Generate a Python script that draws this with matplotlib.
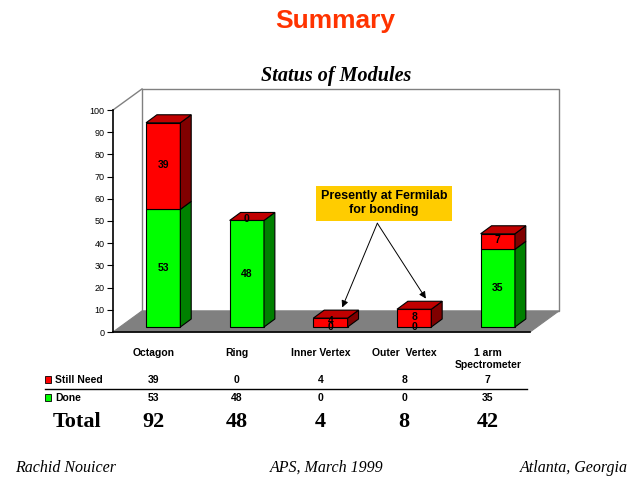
import matplotlib
matplotlib.use("Agg")
import matplotlib.pyplot as plt
from matplotlib.patches import Polygon, Rectangle

# data
categories = ["Octagon", "Ring", "Inner Vertex", "Outer  Vertex", "1 arm\nSpectrometer"]
still_need = [39, 0, 4, 8, 7]
done = [53, 48, 0, 0, 35]
totals = [92, 48, 4, 8, 42]
yticks = [0, 10, 20, 30, 40, 50, 60, 70, 80, 90, 100]

# styles
sans = "Liberation Sans"
serif = "Liberation Serif"
green, green_side = "#00FF00", "#008000"
red, red_side, red_top = "#FF0000", "#800000", "#C00000"

bar_w = 0.41          # front face width (category units)
bar_dx, bar_dy = 0.13, 3.6      # depth of a bar
floor_dx, floor_dy = 0.347, 9.5  # depth of the floor / back wall
base = 2.25           # bars stand in the middle of the floor
xmin, xmax = -0.6, 4.385

fig = plt.figure(figsize=(6.4, 4.8), dpi=100)
ax = fig.add_axes([113 / 640, 148 / 480, 417 / 640, 222 / 480])
ax.set_xlim(xmin, xmax)
ax.set_ylim(0, 100)

# back wall, floor and the edges joining them
wall = Rectangle((xmin + floor_dx, floor_dy), xmax - xmin, 100, facecolor="white",
                 edgecolor="#808080", lw=1, clip_on=False, zorder=0)
ax.add_patch(wall)
floor = Polygon([(xmin, 0), (xmax, 0), (xmax + floor_dx, floor_dy),
                 (xmin + floor_dx, floor_dy)], closed=True, facecolor="#808080",
                edgecolor="#808080", lw=0.8, clip_on=False, zorder=1)
ax.add_patch(floor)
ax.plot([xmin, xmin + floor_dx], [100, 100 + floor_dy], color="#808080",
        lw=1, clip_on=False, zorder=1)
ax.plot([xmin, xmax], [0, 0], color="black", lw=1.2, clip_on=False, zorder=2)

# bars
for i in range(len(categories)):
    segs = [(done[i], green, green_side), (still_need[i], red, red_side)]
    y0 = base
    for val, fc, sc in segs:
        if val > 0:
            ax.add_patch(Rectangle((i - bar_w / 2, y0), bar_w, val, facecolor=fc,
                                   edgecolor="black", lw=0.8, zorder=3, clip_on=False))
            ax.add_patch(Polygon([(i + bar_w / 2, y0), (i + bar_w / 2 + bar_dx, y0 + bar_dy),
                                  (i + bar_w / 2 + bar_dx, y0 + val + bar_dy),
                                  (i + bar_w / 2, y0 + val)], closed=True, facecolor=sc,
                                 edgecolor="black", lw=0.8, zorder=3, clip_on=False))
        y0 += val
    top = base + totals[i]
    ax.add_patch(Polygon([(i - bar_w / 2, top), (i + bar_w / 2, top),
                          (i + bar_w / 2 + bar_dx, top + bar_dy),
                          (i - bar_w / 2 + bar_dx, top + bar_dy)], closed=True,
                         facecolor=red_top, edgecolor="black", lw=0.8, zorder=3,
                         clip_on=False))
    # value labels
    ax.text(i, base + done[i] / 2, str(done[i]), ha="center", va="center",
            fontsize=7.5, fontweight="bold", family=sans, zorder=4)
    ax.text(i, base + done[i] + still_need[i] / 2 + 0.6, str(still_need[i]), ha="center",
            va="center", fontsize=7.5, fontweight="bold", family=sans, zorder=4)

# axis styling
for side in ["top", "right", "bottom"]:
    ax.spines[side].set_visible(False)
ax.spines["left"].set_linewidth(1.2)
ax.set_facecolor("none")
ax.set_xticks([])
ax.set_yticks(yticks)
ax.tick_params(axis="y", length=4, width=0.8, labelsize=6.5, pad=2)
for lab in ax.get_yticklabels():
    lab.set_family(sans)

# category labels and the table under the chart
xt = ax.get_xaxis_transform()
for i, name in enumerate(categories):
    cx = i - 0.12
    ax.text(cx, -0.07, name, transform=xt, ha="center", va="top", fontsize=7.5,
            fontweight="bold", family=sans, linespacing=1.25)
    ax.text(cx, -0.216, str(still_need[i]), transform=xt, ha="center", va="center",
            fontsize=7.5, fontweight="bold", family=sans)
    ax.text(cx, -0.297, str(done[i]), transform=xt, ha="center", va="center",
            fontsize=7.5, fontweight="bold", family=sans)
    ax.text(cx, -0.405, str(totals[i]), transform=xt, ha="center", va="center",
            fontsize=16, fontweight="bold", family=serif)

fig.add_artist(plt.Line2D([45 / 640, 527 / 640], [1 - 389 / 480, 1 - 389 / 480],
                          color="black", lw=1))
fig.add_artist(Rectangle((45 / 640, 1 - 383 / 480), 6 / 640, 7 / 480,
                         facecolor=red, edgecolor="black", lw=0.6))
fig.add_artist(Rectangle((45 / 640, 1 - 401 / 480), 6 / 640, 7 / 480,
                         facecolor=green, edgecolor="black", lw=0.6))
fig.text(55 / 640, 1 - 380 / 480, "Still Need", ha="left", va="center", fontsize=7.5,
         fontweight="bold", family=sans)
fig.text(55 / 640, 1 - 398 / 480, "Done", ha="left", va="center", fontsize=7.5,
         fontweight="bold", family=sans)
fig.text(77 / 640, 1 - 422 / 480, "Total", ha="center", va="center", fontsize=16,
         fontweight="bold", family=serif)

# callout
box_x, box_y = 2.64, 58
ax.text(box_x, box_y, "Presently at Fermilab\nfor bonding", ha="center", va="center",
        fontsize=9, fontweight="bold", family=sans, zorder=5, linespacing=1.25,
        bbox=dict(boxstyle="square,pad=0.35", facecolor="#FFCC00", edgecolor="none"))
for i in [2, 3]:
    ax.annotate("", xy=(i + 0.14, base + totals[i] + bar_dy + 1.2),
                xytext=(2.56, 49), zorder=5,
                arrowprops=dict(arrowstyle="-|>", color="black", lw=0.7,
                                mutation_scale=10, shrinkA=0, shrinkB=0))

# titles and footer
fig.text(0.524, 1 - 21 / 480, "Summary", ha="center", va="center", fontsize=19,
         fontweight="bold", family=sans, color="#FF3300")
fig.text(0.525, 1 - 76 / 480, "Status of Modules", ha="center", va="center",
         fontsize=14.5, fontweight="bold", fontstyle="italic", family=serif)
fig.text(15 / 640, 1 - 468 / 480, "Rachid Nouicer", ha="left", va="center",
         fontsize=11.5, fontstyle="italic", family=serif)
fig.text(327 / 640, 1 - 468 / 480, "APS, March 1999", ha="center", va="center",
         fontsize=11.5, fontstyle="italic", family=serif)
fig.text(628 / 640, 1 - 468 / 480, "Atlanta, Georgia", ha="right", va="center",
         fontsize=11.5, fontstyle="italic", family=serif)

fig.savefig("out.png", dpi=100)
